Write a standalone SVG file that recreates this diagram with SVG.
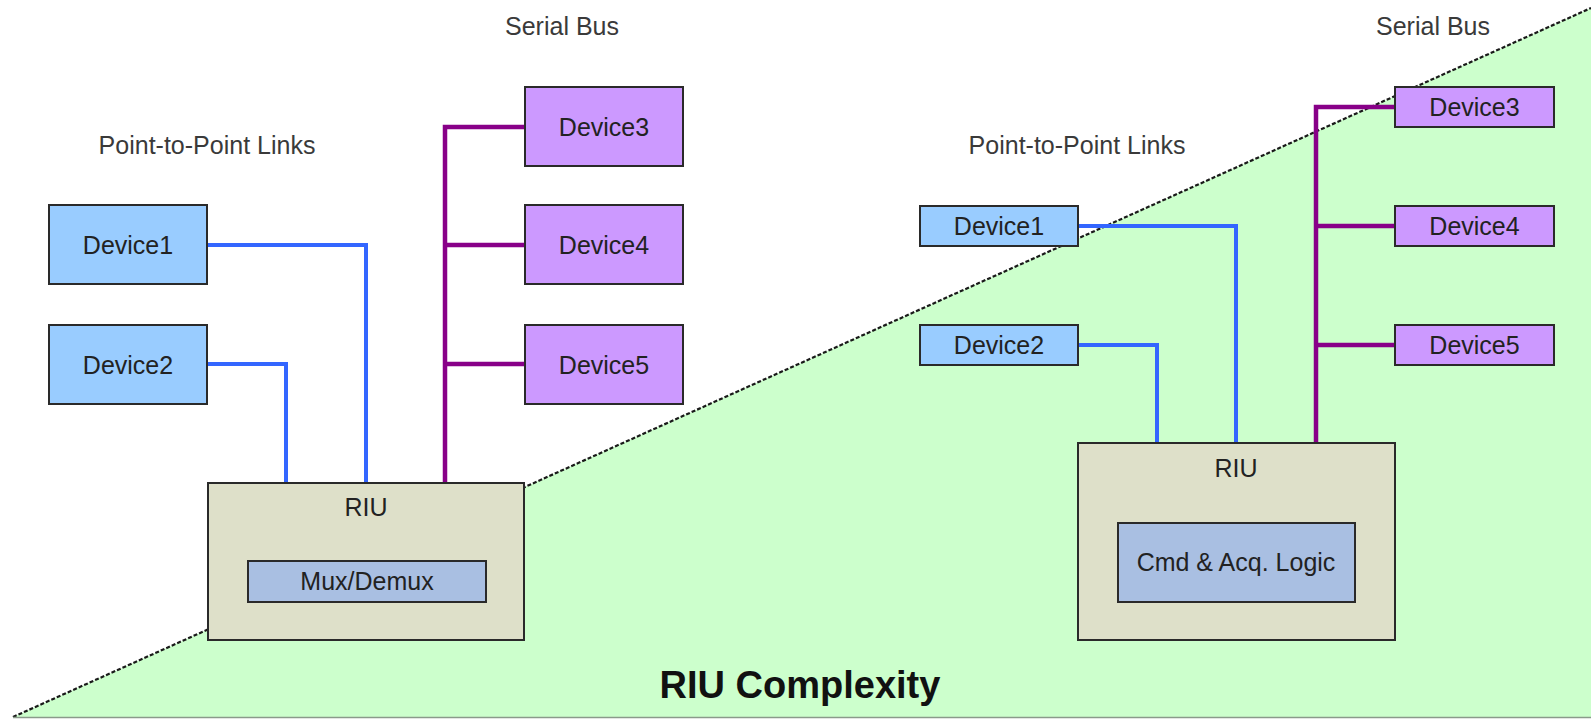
<svg xmlns="http://www.w3.org/2000/svg" width="1591" height="719" viewBox="0 0 1591 719">
  <style>
    .lbl { font-family: "Liberation Sans", Arial, sans-serif; font-size: 25px; fill: #3a3a3a; text-anchor: middle; }
    .dev { font-family: "Liberation Sans", Arial, sans-serif; font-size: 25px; fill: #222; text-anchor: middle; }
    .title { font-family: "Liberation Sans", Arial, sans-serif; font-size: 38px; font-weight: bold; fill: #111; text-anchor: middle; }
    .p2p { fill: #99ccff; stroke: #2a2a2a; stroke-width: 2; }
    .bus { fill: #cc99ff; stroke: #2a2a2a; stroke-width: 2; }
    .riu { fill: #dee0c9; stroke: #2a2a2a; stroke-width: 2; }
    .inner { fill: #a9bfe2; stroke: #2a2a2a; stroke-width: 2; }
    .blue { fill: none; stroke: #3366ff; stroke-width: 4; }
    .purple { fill: none; stroke: #880088; stroke-width: 4.5; }
  </style>

  <rect x="0" y="0" width="1591" height="719" fill="#ffffff"/>

  <!-- complexity wedge -->
  <g id="wedge">
    <polygon points="13,717 1591,8 1591,717" fill="#ccffcc"/>
    <line x1="13" y1="717" x2="1591" y2="8" stroke="#1a1a1a" stroke-width="2.2" stroke-dasharray="4 2"/>
    <line x1="13" y1="717.5" x2="1591" y2="717.5" stroke="#8a9a8a" stroke-width="1.5"/>
  </g>

  <!-- headings -->
  <g id="labels">
    <text class="lbl" x="562" y="35">Serial Bus</text>
    <text class="lbl" x="207" y="154">Point-to-Point Links</text>
    <text class="lbl" x="1433" y="35">Serial Bus</text>
    <text class="lbl" x="1077" y="154">Point-to-Point Links</text>
    <text class="title" x="800" y="698">RIU Complexity</text>
  </g>

  <!-- links -->
  <g id="connectors">
    <!-- simple RIU -->
    <polyline class="blue" points="207,245 366,245 366,483"/>
    <polyline class="blue" points="207,364 286,364 286,483"/>
    <polyline class="purple" points="525,127 445,127 445,483"/>
    <line class="purple" x1="445" y1="245" x2="525" y2="245"/>
    <line class="purple" x1="445" y1="364" x2="525" y2="364"/>
    <!-- complex RIU -->
    <polyline class="blue" points="1078,226 1236,226 1236,443"/>
    <polyline class="blue" points="1078,345 1157,345 1157,443"/>
    <polyline class="purple" points="1395,107 1316,107 1316,443"/>
    <line class="purple" x1="1316" y1="226" x2="1395" y2="226"/>
    <line class="purple" x1="1316" y1="345" x2="1395" y2="345"/>
  </g>

  <!-- simple RIU side -->
  <g id="l-device1"><rect class="p2p" x="49" y="205" width="158" height="79"/><text class="dev" x="128" y="253.5">Device1</text></g>
  <g id="l-device2"><rect class="p2p" x="49" y="325" width="158" height="79"/><text class="dev" x="128" y="373.5">Device2</text></g>
  <g id="l-device3"><rect class="bus" x="525" y="87" width="158" height="79"/><text class="dev" x="604" y="135.5">Device3</text></g>
  <g id="l-device4"><rect class="bus" x="525" y="205" width="158" height="79"/><text class="dev" x="604" y="253.5">Device4</text></g>
  <g id="l-device5"><rect class="bus" x="525" y="325" width="158" height="79"/><text class="dev" x="604" y="373.5">Device5</text></g>
  <g id="l-riu">
    <rect class="riu" x="208" y="483" width="316" height="157"/>
    <text class="dev" x="366" y="516">RIU</text>
  </g>
  <g id="l-mux">
    <rect class="inner" x="248" y="561" width="238" height="41"/>
    <text class="dev" x="367" y="590">Mux/Demux</text>
  </g>

  <!-- complex RIU side -->
  <g id="r-device1"><rect class="p2p" x="920" y="206" width="158" height="40"/><text class="dev" x="999" y="234.5">Device1</text></g>
  <g id="r-device2"><rect class="p2p" x="920" y="325" width="158" height="40"/><text class="dev" x="999" y="353.5">Device2</text></g>
  <g id="r-device3"><rect class="bus" x="1395" y="87" width="159" height="40"/><text class="dev" x="1474.5" y="115.5">Device3</text></g>
  <g id="r-device4"><rect class="bus" x="1395" y="206" width="159" height="40"/><text class="dev" x="1474.5" y="234.5">Device4</text></g>
  <g id="r-device5"><rect class="bus" x="1395" y="325" width="159" height="40"/><text class="dev" x="1474.5" y="353.5">Device5</text></g>
  <g id="r-riu">
    <rect class="riu" x="1078" y="443" width="317" height="197"/>
    <text class="dev" x="1236" y="477">RIU</text>
  </g>
  <g id="r-logic">
    <rect class="inner" x="1118" y="523" width="237" height="79"/>
    <text class="dev" x="1236" y="571">Cmd &amp; Acq. Logic</text>
  </g>
</svg>
